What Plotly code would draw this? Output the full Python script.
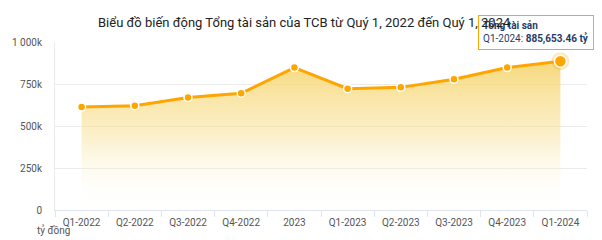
import plotly.graph_objects as go

categories = ["Q1-2022", "Q2-2022", "Q3-2022", "Q4-2022", "2023",
              "Q1-2023", "Q2-2023", "Q3-2023", "Q4-2023", "Q1-2024"]
total_assets = [613000, 621000, 669000, 695000, 848000,
                722000, 730000, 778000, 848000, 885653.46]
y_tickvals = [0, 250000, 500000, 750000, 1000000]
y_ticktext = ["0", "250k", "500k", "750k", "1 000k"]
title_text = "Biểu đồ biến động Tổng tài sản của TCB từ Quý 1, 2022 đến Quý 1, 2024"
series_name = "Tổng tài sản"
unit_label = "tỷ đồng"

ORANGE = "#FFA500"
FONT = "Roboto"

fig = go.Figure()

fig.add_trace(go.Scatter(
    x=categories, y=total_assets, mode="lines+markers",
    line=dict(color=ORANGE, width=3),
    marker=dict(size=8, color=ORANGE, line=dict(color="white", width=1.5)),
    fill="tozeroy",
    fillgradient=dict(type="vertical",
                      colorscale=[[0, "rgba(255,255,255,0)"],
                                  [0.5, "rgba(248,225,150,0.5)"],
                                  [1, "rgba(245,210,100,0.85)"]]),
    hoverinfo="skip", showlegend=False,
))

# highlighted last point (hover state)
fig.add_trace(go.Scatter(
    x=[categories[-1]], y=[total_assets[-1]], mode="markers",
    marker=dict(size=18, color="rgba(255,165,0,0.25)", line=dict(width=0)),
    hoverinfo="skip", showlegend=False,
))
fig.add_trace(go.Scatter(
    x=[categories[-1]], y=[total_assets[-1]], mode="markers",
    marker=dict(size=12, color=ORANGE, line=dict(color="white", width=1.5)),
    hoverinfo="skip", showlegend=False,
))

last_val = f"{total_assets[-1]:,.2f}"
fig.add_annotation(
    x=categories[-1], y=total_assets[-1], xref="x", yref="y",
    text=f"<b>{series_name}</b><br>{categories[-1]}: <b>{last_val} tỷ</b>",
    showarrow=False, align="left", xanchor="center", yanchor="bottom",
    xshift=-24, yshift=11,
    font=dict(family=FONT, size=10, color="#1f3b6e"),
    bgcolor="rgba(255,255,255,0.85)", bordercolor=ORANGE, borderwidth=1,
    borderpad=4,
)

fig.add_annotation(
    x=0.5, y=1.0, xref="paper", yref="paper", xanchor="center", yanchor="bottom",
    text=title_text, showarrow=False, yshift=10, xshift=-17,
    font=dict(family=FONT, size=13, color="#222"),
)
fig.add_annotation(
    x=0, y=0, xref="paper", yref="paper", xanchor="right", yanchor="top",
    text=unit_label, showarrow=False, xshift=17, yshift=-12,
    font=dict(family=FONT, size=10, color="#555"),
)

fig.update_layout(
    width=602, height=240,
    margin=dict(l=55, r=15, t=42, b=24),
    paper_bgcolor="white", plot_bgcolor="white",
    font=dict(family=FONT, size=10, color="#555"),
)
fig.update_xaxes(
    type="category", range=[-0.5, len(categories) - 0.5],
    tickson="boundaries", ticks="outside", ticklen=6,
    tickcolor="#dfe4ee", showline=True, linecolor="#dfe4ee", linewidth=1,
    showgrid=False, tickfont=dict(size=10, color="#555"),
    ticklabelstandoff=3,
)
fig.update_yaxes(
    range=[0, 1000000], tickvals=y_tickvals, ticktext=y_ticktext,
    showgrid=True, gridcolor="#ebebeb", zeroline=False,
    showline=True, linecolor="#ebebeb",
    tickfont=dict(size=10, color="#555"), ticklabelstandoff=10,
)

fig.write_html("out.html")
